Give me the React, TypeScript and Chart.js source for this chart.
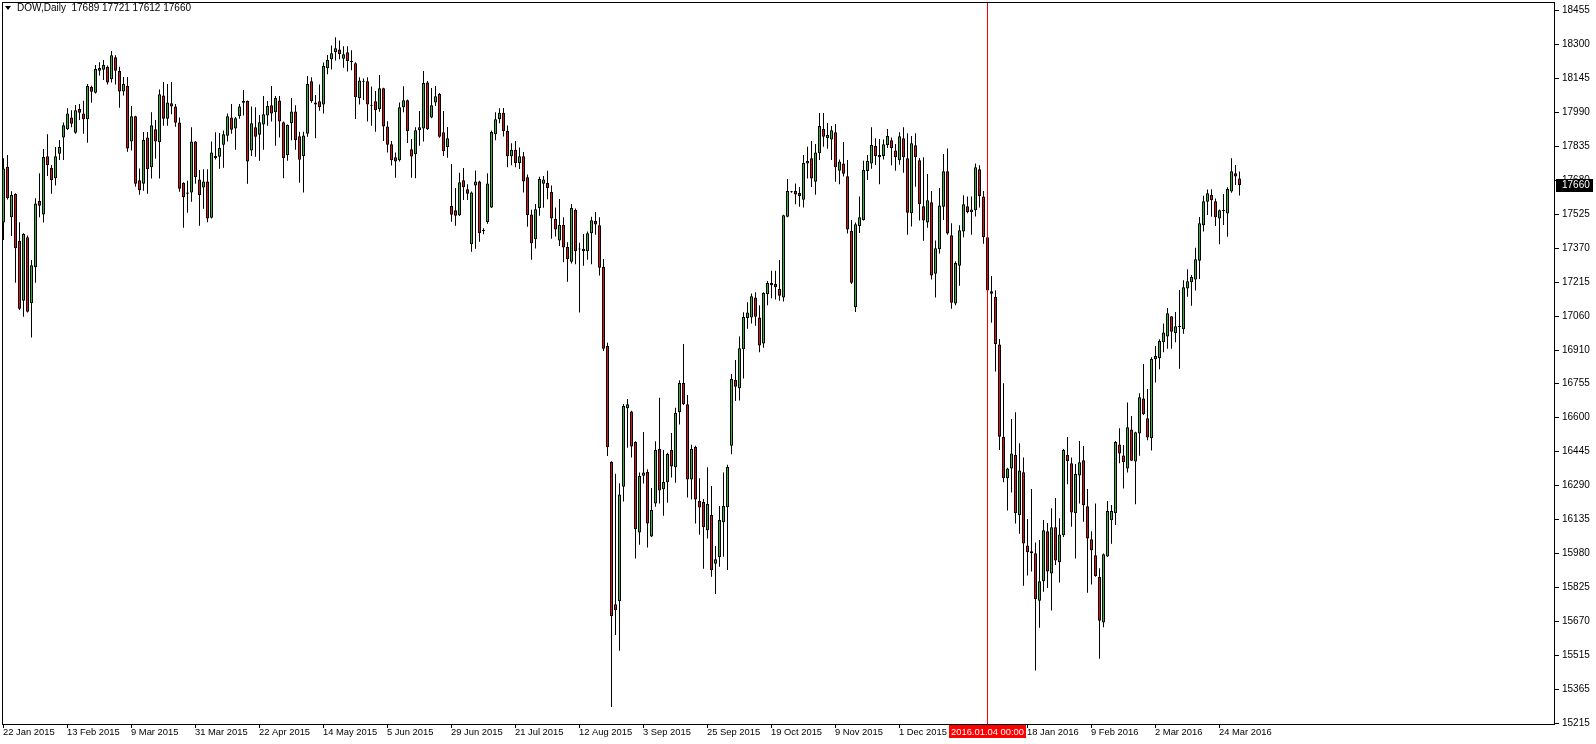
import { useEffect, useRef } from 'react';
import { Chart, registerables } from 'chart.js';

Chart.register(...registerables);

// ---- data (bar index = trading day, 0 = 22 Jan 2015) ----
const opens = [
  17489, 17743, 17513, 17619, 17407, 17134, 17422, 17122, 17286, 17587,
  17526, 17790, 17738, 17690, 17802, 17876, 17913, 17967, 17897, 18005,
  17985, 17958, 18105, 18079, 18179, 18184, 18196, 18140, 18240, 18178,
  18085, 18111, 17857, 17972, 17681, 17666, 17876, 17740, 17913, 17854,
  18067, 17961, 18031, 18017, 17944, 17670, 17626, 17626, 17858, 17685,
  17648, 17676, 17511, 17782, 17788, 17843, 17884, 17967, 17916, 17972,
  18034, 18041, 17816, 17922, 17888, 17935, 17976, 18022, 17990, 18044,
  17945, 17795, 17940, 17994, 17881, 17790, 17893, 18131, 18035, 18040,
  18026, 18190, 18231, 18263, 18276, 18234, 18263, 18217, 18213, 18054,
  18129, 18131, 18023, 18040, 18004, 18099, 17926, 17845, 17786, 17772,
  18013, 18045, 17822, 17799, 17908, 17917, 18126, 17967, 18035, 18073,
  17899, 17831, 17564, 17545, 17522, 17681, 17640, 17390, 17657, 17676,
  17451, 17492, 17558, 17890, 17958, 17988, 17905, 17790, 17820, 17760,
  17790, 17695, 17526, 17413, 17555, 17665, 17669, 17628, 17505, 17408,
  17478, 17378, 17311, 17547, 17370, 17359, 17359, 17440, 17496, 17477,
  17287, 16928, 16401, 15755, 15768, 16289, 16645, 16631, 16492, 16081,
  16339, 16356, 16063, 16213, 16460, 16277, 16309, 16456, 16377, 16627,
  16760, 16663, 16322, 16469, 16225, 16219, 16091, 16160, 15939, 15968,
  16127, 16195, 16475, 16774, 16736, 16913, 17055, 17058, 17149, 17058,
  16940, 17163, 17214, 17210, 17187, 17148, 17516, 17628, 17633, 17623,
  17593, 17758, 17781, 17675, 17804, 17914, 17872, 17867, 17899, 17725,
  17758, 17699, 17451, 17104, 17473, 17501, 17723, 17758, 17837, 17786,
  17792, 17842, 17863, 17817, 17772, 17872, 17781, 17531, 17840, 17772,
  17563, 17489, 17581, 17257, 17368, 17561, 17722, 17431, 17121, 17293,
  17448, 17563, 17536, 17545, 17731, 17608, 17422, 17177, 17152, 16935,
  16515, 16327, 16371, 16433, 16159, 16354, 16022, 15986, 15986, 15771,
  15859, 16086, 15894, 16104, 15945, 16068, 16433, 16395, 16168, 16340,
  16409, 16200, 16050, 15977, 15878, 15672, 15972, 16136, 16168, 16481,
  16431, 16372, 16549, 16403, 16531, 16690, 16600, 16509, 16868, 16872,
  16945, 16971, 17063, 16986, 17018, 17004, 17190, 17218, 17230, 17316,
  17477, 17584, 17614, 17586, 17507, 17542, 17530, 17630, 17713, 17689,
];
const highs = [
  17781, 17796, 17631, 17622, 17490, 17440, 17430, 17319, 17599, 17713,
  17823, 17890, 17751, 17832, 17864, 17944, 18008, 18000, 18023, 18028,
  18043, 18119, 18111, 18205, 18217, 18228, 18203, 18269, 18249, 18197,
  18150, 18150, 18019, 17975, 17735, 17901, 17901, 17990, 17955, 18094,
  18128, 18119, 18128, 18028, 17967, 17672, 17679, 17922, 17860, 17728,
  17731, 17731, 17858, 17899, 17896, 17907, 17985, 18028, 17969, 18028,
  18091, 18044, 18016, 18013, 17978, 18064, 18041, 18110, 18064, 18064,
  17948, 17935, 18055, 18022, 17902, 17902, 18155, 18149, 18069, 18117,
  18216, 18250, 18294, 18331, 18316, 18290, 18290, 18272, 18217, 18149,
  18144, 18149, 18107, 18087, 18160, 18102, 17949, 17860, 17808, 18035,
  18108, 18048, 17869, 17922, 17996, 18178, 18132, 18101, 18110, 18078,
  17996, 17923, 17755, 17646, 17716, 17737, 17663, 17630, 17726, 17679,
  17463, 17713, 17907, 17990, 18008, 18010, 17930, 17850, 17860, 17830,
  17810, 17708, 17547, 17574, 17697, 17701, 17724, 17658, 17558, 17596,
  17513, 17400, 17574, 17553, 17397, 17437, 17448, 17515, 17537, 17513,
  17324, 16943, 16404, 16348, 16304, 16665, 16687, 16634, 16495, 16353,
  16537, 16368, 16283, 16495, 16693, 16456, 16443, 16533, 16648, 16772,
  16937, 16706, 16480, 16475, 16327, 16233, 16377, 16292, 16019, 16201,
  16353, 16388, 16801, 16865, 16971, 17081, 17127, 17167, 17172, 17113,
  17172, 17224, 17270, 17270, 17319, 17525, 17687, 17632, 17667, 17651,
  17796, 17834, 17860, 17846, 17987, 17987, 17941, 17928, 17937, 17776,
  17855, 17773, 17501, 17489, 17607, 17770, 17796, 17922, 17872, 17869,
  17867, 17914, 17876, 17846, 17899, 17922, 17895, 17882, 17895, 17783,
  17786, 17710, 17633, 17408, 17646, 17801, 17826, 17486, 17313, 17477,
  17613, 17608, 17608, 17757, 17749, 17633, 17430, 17246, 17181, 16960,
  16759, 16375, 16596, 16627, 16486, 16422, 16142, 16278, 16035, 16047,
  16137, 16124, 16191, 16237, 16145, 16460, 16515, 16422, 16392, 16496,
  16474, 16278, 16086, 16212, 15918, 15985, 16224, 16206, 16496, 16554,
  16478, 16671, 16610, 16539, 16713, 16846, 16733, 16877, 16928, 16959,
  17030, 17101, 17063, 17083, 17183, 17227, 17277, 17251, 17375, 17514,
  17611, 17639, 17640, 17598, 17549, 17619, 17649, 17781, 17751, 17721,
];
const lows = [
  17410, 17594, 17428, 17216, 17092, 17061, 17080, 16967, 17216, 17513,
  17489, 17701, 17620, 17657, 17773, 17773, 17910, 17922, 17893, 17955,
  17893, 17852, 18034, 18076, 18157, 18137, 18116, 18126, 18116, 18011,
  18067, 17811, 17816, 17652, 17616, 17634, 17620, 17689, 17779, 17689,
  17929, 17929, 17981, 17925, 17629, 17466, 17534, 17584, 17666, 17475,
  17552, 17490, 17507, 17776, 17734, 17738, 17857, 17893, 17820, 17961,
  17976, 17666, 17791, 17788, 17770, 17820, 17929, 17948, 17838, 17876,
  17690, 17770, 17863, 17820, 17670, 17626, 17879, 18034, 17872, 17997,
  17985, 18163, 18185, 18226, 18231, 18193, 18176, 18181, 17960, 18026,
  18046, 17948, 17929, 17902, 17993, 17860, 17807, 17748, 17693, 17766,
  17990, 17851, 17693, 17690, 17838, 17857, 17910, 17963, 18019, 17875,
  17792, 17784, 17493, 17475, 17519, 17592, 17592, 17357, 17370, 17402,
  17436, 17484, 17555, 17863, 17940, 17880, 17740, 17750, 17740, 17732,
  17626, 17470, 17320, 17371, 17520, 17556, 17595, 17416, 17426, 17383,
  17309, 17220, 17303, 17300, 17080, 17293, 17320, 17300, 17434, 17249,
  16906, 16428, 15288, 15615, 15543, 16221, 16466, 16421, 15962, 16025,
  16303, 16013, 16060, 16198, 16213, 16157, 16216, 16331, 16307, 16571,
  16660, 16240, 16231, 16122, 16071, 15916, 16053, 15880, 15801, 15925,
  15971, 15910, 16436, 16678, 16680, 16780, 17007, 17030, 17020, 16900,
  16920, 17113, 17145, 17140, 17134, 17130, 17513, 17624, 17572, 17561,
  17557, 17689, 17651, 17616, 17773, 17834, 17825, 17773, 17675, 17663,
  17698, 17439, 17210, 17083, 17442, 17498, 17682, 17734, 17751, 17663,
  17776, 17828, 17749, 17725, 17752, 17716, 17434, 17471, 17652, 17498,
  17407, 17466, 17230, 17148, 17349, 17501, 17434, 17098, 17113, 17202,
  17422, 17531, 17434, 17517, 17558, 17393, 17170, 17034, 16812, 16456,
  16309, 16181, 16263, 16122, 16075, 15839, 15885, 15903, 15454, 15648,
  15812, 15829, 15726, 15933, 15853, 16060, 16300, 16107, 15962, 16212,
  16130, 15807, 15844, 15880, 15507, 15650, 15969, 16030, 16115, 16395,
  16281, 16353, 16406, 16209, 16430, 16615, 16500, 16453, 16762, 16822,
  16900, 16916, 16916, 16945, 16825, 16984, 17152, 17111, 17180, 17233,
  17448, 17524, 17516, 17473, 17390, 17478, 17425, 17625, 17660, 17612,
];
const closes = [
  17735, 17599, 17614, 17372, 17098, 17437, 17084, 17295, 17576, 17566,
  17787, 17749, 17681, 17790, 17832, 17931, 17985, 17938, 18000, 17988,
  17958, 18110, 18084, 18187, 18191, 18205, 18125, 18249, 18179, 18085,
  18119, 17826, 17972, 17666, 17636, 17864, 17731, 17931, 17857, 18072,
  17961, 18035, 18017, 17943, 17643, 17604, 17620, 17858, 17695, 17613,
  17676, 17507, 17808, 17791, 17828, 17890, 17972, 17911, 17963, 18017,
  18041, 17766, 17940, 17879, 17945, 17981, 18019, 17985, 18055, 17948,
  17781, 17932, 17994, 17863, 17775, 17885, 18119, 18040, 18026, 18013,
  18200, 18228, 18258, 18281, 18254, 18254, 18223, 18223, 18058, 18135,
  18132, 18026, 18020, 17999, 18099, 17926, 17843, 17772, 17767, 18013,
  18045, 17904, 17789, 17908, 17922, 18123, 17913, 18022, 18063, 17879,
  17813, 17872, 17525, 17520, 17672, 17649, 17620, 17626, 17676, 17440,
  17454, 17667, 17901, 17958, 17988, 17905, 17790, 17820, 17760, 17790,
  17676, 17523, 17395, 17550, 17687, 17685, 17646, 17508, 17457, 17478,
  17376, 17322, 17555, 17359, 17367, 17370, 17441, 17500, 17480, 17284,
  16916, 16468, 15700, 15727, 16253, 16656, 16663, 16471, 16095, 16337,
  16353, 16122, 16183, 16456, 16272, 16310, 16437, 16381, 16624, 16760,
  16663, 16322, 16460, 16231, 16194, 16104, 16210, 15909, 15959, 16138,
  16201, 16378, 16778, 16743, 16918, 17060, 17080, 17154, 17061, 16930,
  17170, 17214, 17204, 17195, 17157, 17522, 17633, 17627, 17617, 17610,
  17760, 17769, 17689, 17808, 17928, 17879, 17887, 17908, 17740, 17767,
  17711, 17458, 17216, 17481, 17513, 17729, 17769, 17841, 17792, 17796,
  17845, 17883, 17828, 17786, 17881, 17786, 17534, 17849, 17786, 17572,
  17498, 17590, 17248, 17372, 17567, 17722, 17439, 17125, 17305, 17454,
  17572, 17537, 17549, 17740, 17610, 17422, 17180, 17166, 16936, 16516,
  16327, 16372, 16440, 16168, 16363, 16031, 15991, 15995, 15777, 15859,
  16091, 15903, 16104, 15953, 16072, 16456, 16404, 16172, 16346, 16400,
  16204, 16054, 16000, 15883, 15680, 15982, 16178, 16178, 16492, 16440,
  16400, 16559, 16407, 16536, 16695, 16618, 16512, 16869, 16883, 16951,
  16990, 17077, 16993, 17018, 17015, 17195, 17222, 17242, 17322, 17486,
  17586, 17622, 17590, 17513, 17545, 17545, 17642, 17722, 17698, 17660,
];

const priceTickLabels = [
  '18455', '18300', '18145', '17990', '17835', '17680', '17525', '17370',
  '17215', '17060', '16910', '16755', '16600', '16445', '16290', '16135',
  '15980', '15825', '15670', '15515', '15365', '15215',
];
const priceTop = 18455;
const priceBottom = 15215;

const dateTickLabels = [
  '22 Jan 2015', '13 Feb 2015', '9 Mar 2015', '31 Mar 2015', '22 Apr 2015',
  '14 May 2015', '5 Jun 2015', '29 Jun 2015', '21 Jul 2015', '12 Aug 2015',
  '3 Sep 2015', '25 Sep 2015', '19 Oct 2015', '9 Nov 2015', '1 Dec 2015',
  '18 Jan 2016', '9 Feb 2016', '2 Mar 2016', '24 Mar 2016',
];
const dateTickBars = [0, 16, 32, 48, 64, 80, 96, 112, 128, 144, 160, 176, 192, 208, 224, 256, 272, 288, 304];

const markerBar = 246;
const markerLabel = '2016.01.04 00:00';
const headerText = 'DOW,Daily  17689 17721 17612 17660';
const lastPrice = 17660;

const GREEN = '#32b432';
const RED = '#e01010';
const FONT = '10px "Liberation Sans", Arial, sans-serif';
const DATE_FONT = '9.4px "Liberation Sans", Arial, sans-serif';

const overlay = {
  id: 'mt4overlay',
  afterDatasetsDraw(chart: any) {
    const ctx = chart.ctx as CanvasRenderingContext2D;
    const area = chart.chartArea;
    const xs = chart.scales.x;
    const ys = chart.scales.y;
    ctx.save();
    // marker line
    const mx = Math.round(xs.getPixelForValue(markerBar)) - 0.5;
    ctx.strokeStyle = '#ff0000';
    ctx.lineWidth = 1;
    ctx.beginPath();
    ctx.moveTo(mx, area.top);
    ctx.lineTo(mx, area.bottom);
    ctx.stroke();

    // frame
    ctx.strokeStyle = '#000';
    ctx.strokeRect(area.left + 0.5, area.top + 0.5, area.right - area.left - 1, area.bottom - area.top);

    ctx.font = FONT;
    ctx.fillStyle = '#000';
    ctx.textBaseline = 'middle';

    // price axis
    const n = priceTickLabels.length;
    for (let i = 0; i < n; i++) {
      const v = priceTop - (i * (priceTop - priceBottom)) / (n - 1);
      const y = Math.round(ys.getPixelForValue(v)) + 0.5;
      ctx.beginPath();
      ctx.moveTo(area.right, y);
      ctx.lineTo(area.right + 4, y);
      ctx.stroke();
      ctx.textAlign = 'left';
      ctx.fillText(priceTickLabels[i], area.right + 7, y);
    }
    // last price tag
    const ly = Math.round(ys.getPixelForValue(lastPrice));
    ctx.fillStyle = '#000';
    ctx.fillRect(area.right + 1, ly - 6, 37, 13);
    ctx.fillStyle = '#fff';
    ctx.fillText(String(lastPrice), area.right + 7, ly + 0.5);

    // date axis
    ctx.font = DATE_FONT;
    ctx.fillStyle = '#000';
    ctx.textAlign = 'left';
    for (let i = 0; i < dateTickLabels.length; i++) {
      const x = Math.round(xs.getPixelForValue(dateTickBars[i]));
      ctx.beginPath();
      ctx.moveTo(x - 0.5, area.bottom);
      ctx.lineTo(x - 0.5, area.bottom + 4);
      ctx.stroke();
      ctx.fillText(dateTickLabels[i], x - 1, area.bottom + 8);
    }
    // marker label box
    const tw = ctx.measureText(markerLabel).width + 4;
    ctx.fillStyle = '#ff0000';
    ctx.fillRect(Math.round(mx - tw / 2), area.bottom + 1, Math.round(tw), 13);
    ctx.fillStyle = '#fff';
    ctx.textAlign = 'center';
    ctx.fillText(markerLabel, mx, area.bottom + 8);

    // header
    ctx.font = FONT;
    ctx.fillStyle = '#000';
    ctx.beginPath();
    ctx.moveTo(5, 6);
    ctx.lineTo(11, 6);
    ctx.lineTo(8, 10);
    ctx.closePath();
    ctx.fill();
    ctx.textAlign = 'left';
    ctx.fillText(headerText, 17, 8.5);
    ctx.restore();
  },
};

export default function App() {
  const ref = useRef<HTMLCanvasElement | null>(null);
  useEffect(() => {
    document.body.style.margin = '0';
    const canvas = ref.current;
    if (!canvas) return;
    const bodyData = opens.map((o, i) => ({ x: i, y: [o, closes[i]] }));
    const wickData = lows.map((l, i) => ({ x: i, y: [l, highs[i]] }));
    const chart = new Chart(canvas, {
      type: 'bar',
      data: {
        datasets: [
          {
            label: 'body',
            data: bodyData as any,
            backgroundColor: closes.map((c, i) => (c >= opens[i] ? GREEN : RED)),
            borderColor: '#000',
            borderWidth: 1,
            borderSkipped: false,
            barThickness: 3,
            minBarLength: 1,
            grouped: false,
            inflateAmount: 0,
          } as any,
          {
            label: 'wick',
            data: wickData as any,
            backgroundColor: '#000',
            borderWidth: 0,
            barThickness: 1,
            grouped: false,
            inflateAmount: 0,
          } as any,
        ],
      },
      options: {
        responsive: false,
        animation: false,
        devicePixelRatio: 1,
        events: [],
        layout: { padding: { left: 2, top: 2, right: 41, bottom: 20 } },
        plugins: { legend: { display: false }, tooltip: { enabled: false } },
        scales: {
          x: { type: 'linear', min: -0.375, max: 387.875, display: false, offset: false },
          y: { type: 'linear', min: 15210.5, max: 18491.35, display: false },
        },
      },
      plugins: [overlay],
    });
    return () => chart.destroy();
  }, []);
  return (
    <div style={{ width: 1596, height: 744, background: '#fff' }}>
      <canvas ref={ref} width={1596} height={744} style={{ display: 'block' }} />
    </div>
  );
}
